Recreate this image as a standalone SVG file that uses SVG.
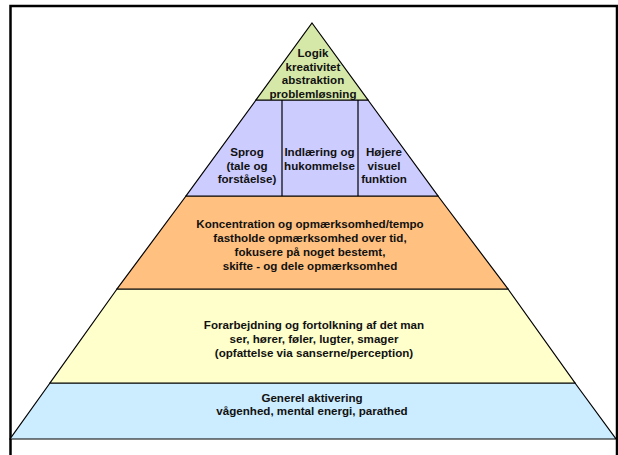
<svg xmlns="http://www.w3.org/2000/svg" width="618" height="455" viewBox="0 0 618 455">
<style>
.layer{stroke:#000;stroke-width:1.2;stroke-linejoin:miter}
.t{font-family:"Liberation Sans",Arial,sans-serif;font-weight:bold;font-size:11.6px;fill:#111;text-anchor:middle}
</style>
<rect x="0" y="0" width="618" height="455" fill="#fff"/>
<rect x="10.5" y="6" width="606.5" height="460" fill="none" stroke="#000" stroke-width="2.5"/>
<g id="blue">
<polygon class="layer" fill="#CCECFF" points="50,383 575,383 616,439 10,439"/>
<text class="t" x="312" y="402">Generel aktivering</text>
<text class="t" x="312" y="415">vågenhed, mental energi, parathed</text>
</g>
<g id="yellow">
<polygon class="layer" fill="#FFFFCC" points="117,289 508,289 575,383 50,383"/>
<text class="t" x="314" y="329">Forarbejdning og fortolkning af det man</text>
<text class="t" x="314" y="343">ser, hører, føler, lugter, smager</text>
<text class="t" x="314" y="357">(opfattelse via sanserne/perception)</text>
</g>
<g id="orange">
<polygon class="layer" fill="#FFC080" points="186,196 438,196 508,289 117,289"/>
<text class="t" x="310" y="228">Koncentration og opmærksomhed/tempo</text>
<text class="t" x="310" y="242">fastholde opmærksomhed over tid,</text>
<text class="t" x="310" y="256">fokusere på noget bestemt,</text>
<text class="t" x="310" y="270">skifte - og dele opmærksomhed</text>
</g>
<g id="purple">
<polygon class="layer" fill="#CCCCFF" points="256,100 368,100 438,196 186,196"/>
<line class="layer" x1="282" y1="100" x2="282" y2="196"/>
<line class="layer" x1="358" y1="100" x2="358" y2="196"/>
<text class="t" x="247" y="156">Sprog</text>
<text class="t" x="247" y="169.5">(tale og</text>
<text class="t" x="247" y="183">forståelse)</text>
<text class="t" x="319.5" y="156">Indlæring og</text>
<text class="t" x="319.5" y="169.5">hukommelse</text>
<text class="t" x="384" y="156">Højere</text>
<text class="t" x="384" y="169.5">visuel</text>
<text class="t" x="384" y="183">funktion</text>
</g>
<g id="green">
<polygon class="layer" fill="#D6E8A8" points="312,23 368,100 256,100"/>
<text class="t" x="313" y="57">Logik</text>
<text class="t" x="313" y="70.5">kreativitet</text>
<text class="t" x="313" y="84">abstraktion</text>
<text class="t" x="313" y="97.5">problemløsning</text>
</g>
</svg>
